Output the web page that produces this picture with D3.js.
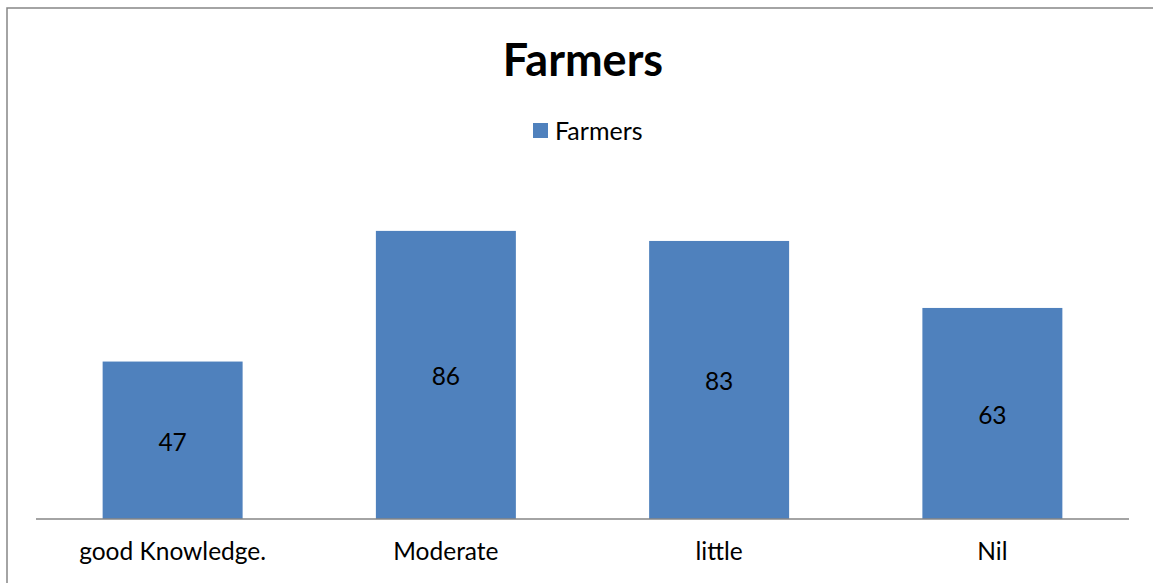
<!DOCTYPE html>
<html>
<head>
<meta charset="utf-8">
<script src="https://cdn.jsdelivr.net/npm/d3@7"></script>
<style>
  html, body { margin: 0; padding: 0; background: #fff; }
  svg { display: block; }
</style>
</head>
<body>
<svg id="chart" width="1153" height="583"></svg>
<script>
// Knowledge level of surveyed farmers
const categories = ["good Knowledge.", "Moderate", "little", "Nil"];
const farmers = [47, 86, 83, 63];
const seriesName = "Farmers";
const chartTitle = "Farmers";

const W = 1153, H = 583;
const font = "Lato, 'Open Sans', sans-serif";
const barColor = "#4F81BD";
const labelSize = 24.5;

const svg = d3.select("#chart");

// outer chart frame (runs off the right and bottom edges)
svg.append("rect")
  .attr("x", 7).attr("y", 8)
  .attr("width", 1160).attr("height", 600)
  .attr("fill", "#fff")
  .attr("stroke", "#868686")
  .attr("stroke-width", 1.5);

const plot = { left: 36, right: 1129, top: 184, bottom: 519 };

const x = d3.scaleBand()
  .domain(categories)
  .range([plot.left, plot.right])
  .paddingInner(0.4877)
  .paddingOuter(0.4877 / 2);

const y = d3.scaleLinear()
  .domain([0, 100])
  .range([plot.bottom, plot.top]);

// bars
svg.append("g")
  .selectAll("rect")
  .data(farmers)
  .join("rect")
  .attr("x", (d, i) => x(categories[i]))
  .attr("y", d => y(d))
  .attr("width", x.bandwidth())
  .attr("height", d => y(0) - y(d))
  .attr("fill", barColor);

// value labels centred in each bar
svg.append("g")
  .selectAll("text")
  .data(farmers)
  .join("text")
  .attr("x", (d, i) => x(categories[i]) + x.bandwidth() / 2)
  .attr("y", d => (y(d) + y(0)) / 2)
  .attr("dy", "0.42em")
  .attr("text-anchor", "middle")
  .attr("font-family", font)
  .attr("font-size", labelSize)
  .attr("fill", "#000")
  .text(d => d);

// category axis
const xAxis = svg.append("g")
  .attr("transform", `translate(0,${plot.bottom})`)
  .call(d3.axisBottom(x).tickSize(0).tickPadding(24));
xAxis.select(".domain")
  .attr("stroke", "#868686")
  .attr("stroke-width", 1.5)
  .attr("d", `M${plot.left},0H${plot.right}`);
xAxis.selectAll("text")
  .attr("font-family", font)
  .attr("font-size", labelSize)
  .attr("fill", "#000");

// title
svg.append("text")
  .attr("x", 583).attr("y", 76)
  .attr("text-anchor", "middle")
  .attr("font-family", font)
  .attr("font-weight", "bold")
  .attr("font-size", 45)
  .attr("fill", "#000")
  .text(chartTitle);

// legend
const legend = svg.append("g");
legend.append("rect")
  .attr("x", 533).attr("y", 123)
  .attr("width", 15).attr("height", 15)
  .attr("fill", barColor);
legend.append("text")
  .attr("x", 555).attr("y", 131)
  .attr("dy", "0.36em")
  .attr("font-family", font)
  .attr("font-size", 25)
  .attr("fill", "#000")
  .text(seriesName);
</script>
</body>
</html>
